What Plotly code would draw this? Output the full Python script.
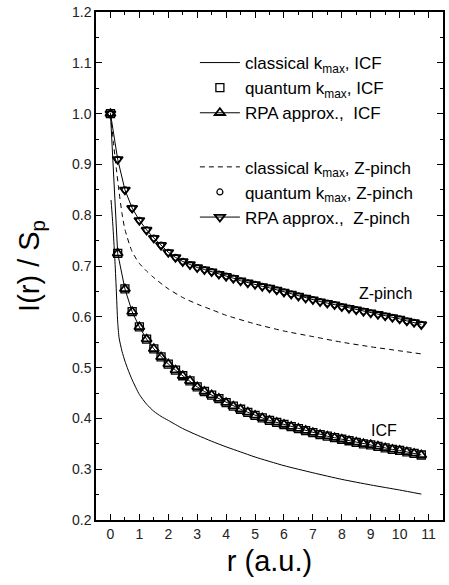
import plotly.graph_objects as go

# ---- data ----
r_pts = [0, 0.25, 0.5, 0.75, 1.0, 1.25, 1.5, 1.75, 2.0, 2.25, 2.5, 2.75, 3.0, 3.25, 3.5, 3.75,
         4.0, 4.25, 4.5, 4.75, 5.0, 5.25, 5.5, 5.75, 6.0, 6.25, 6.5, 6.75, 7.0, 7.25, 7.5, 7.75,
         8.0, 8.25, 8.5, 8.75, 9.0, 9.25, 9.5, 9.75, 10.0, 10.25, 10.5, 10.75]

rpa_icf = [1.000, 0.725, 0.655, 0.610, 0.580, 0.556, 0.537, 0.521, 0.507, 0.495, 0.484, 0.474,
           0.462, 0.453, 0.446, 0.439, 0.431, 0.424, 0.418, 0.412, 0.406, 0.401, 0.396, 0.392,
           0.388, 0.384, 0.380, 0.376, 0.372, 0.368, 0.365, 0.362, 0.359, 0.356, 0.353, 0.350,
           0.348, 0.345, 0.342, 0.339, 0.337, 0.334, 0.331, 0.328]
quantum_icf = [1.000, 0.725, 0.655, 0.610, 0.580, 0.556, 0.537, 0.521, 0.507, 0.495, 0.484, 0.474,
               0.462, 0.453, 0.446, 0.439, 0.431, 0.424, 0.418, 0.412, 0.406, 0.401, 0.396, 0.392,
               0.388, 0.384, 0.380, 0.376, 0.372, 0.368, 0.365, 0.362, 0.359, 0.356, 0.353, 0.350,
               0.348, 0.345, 0.342, 0.339, 0.337, 0.334, 0.331, 0.328]

rpa_z = [1.000, 0.910, 0.850, 0.814, 0.790, 0.771, 0.755, 0.741, 0.727, 0.717, 0.709, 0.703,
         0.697, 0.693, 0.689, 0.684, 0.680, 0.676, 0.671, 0.667, 0.664, 0.660, 0.657, 0.653,
         0.649, 0.645, 0.641, 0.637, 0.634, 0.630, 0.627, 0.624, 0.620, 0.617, 0.614, 0.611,
         0.608, 0.605, 0.602, 0.599, 0.596, 0.592, 0.589, 0.585]
quantum_z = [1.000, 0.910, 0.850, 0.814, 0.790, 0.771, 0.755, 0.741, 0.727, 0.717, 0.709, 0.703,
             0.697, 0.693, 0.689, 0.684, 0.680, 0.676, 0.671, 0.667, 0.664, 0.660, 0.657, 0.653,
             0.649, 0.645, 0.641, 0.637, 0.634, 0.630, 0.627, 0.624, 0.620, 0.617, 0.614, 0.611,
             0.608, 0.605, 0.602, 0.599, 0.596, 0.592, 0.589, 0.585]

r_cl_icf = [0.02, 0.06, 0.1, 0.15, 0.2, 0.25, 0.3, 0.4, 0.5, 0.6, 0.75, 1.0, 1.25, 1.5, 1.75,
            2.0, 2.5, 3.0, 3.5, 4.0, 4.5, 5.0, 6.0, 7.0, 8.0, 9.0, 10.0, 10.75]
cl_icf = [0.830, 0.800, 0.765, 0.715, 0.655, 0.590, 0.558, 0.532, 0.513, 0.497, 0.476, 0.447,
          0.428, 0.414, 0.404, 0.396, 0.380, 0.367, 0.355, 0.344, 0.334, 0.324, 0.307, 0.293,
          0.280, 0.269, 0.259, 0.251]

r_cl_z = [0, 0.1, 0.2, 0.3, 0.4, 0.5, 0.75, 1.0, 1.25, 1.5, 2.0, 2.5, 3.0, 3.5, 4.0, 5.0, 6.0,
          7.0, 8.0, 9.0, 10.0, 10.75]
cl_z = [1.000, 0.945, 0.893, 0.845, 0.803, 0.772, 0.728, 0.705, 0.690, 0.677, 0.655, 0.638,
        0.625, 0.614, 0.603, 0.586, 0.572, 0.561, 0.550, 0.541, 0.533, 0.527]

x_ticks = list(range(0, 12))
y_ticks = [0.2, 0.3, 0.4, 0.5, 0.6, 0.7, 0.8, 0.9, 1.0, 1.1, 1.2]

FONT = "Liberation Sans, Arial, sans-serif"
fig = go.Figure()

fig.add_trace(go.Scatter(x=r_cl_icf, y=cl_icf, mode="lines", name="classical k<sub>max</sub>, ICF",
                         line=dict(color="black", width=1, shape="spline", smoothing=0.6),
                         legendgroup="icf"))
fig.add_trace(go.Scatter(x=r_pts, y=quantum_icf, mode="markers", name="quantum k<sub>max</sub>, ICF",
                         marker=dict(symbol="square-open", size=8, color="black", line=dict(width=1.3)),
                         legendgroup="icf"))
fig.add_trace(go.Scatter(x=r_pts, y=rpa_icf, mode="lines+markers", name="RPA approx.,  ICF",
                         line=dict(color="black", width=1),
                         marker=dict(symbol="triangle-up-open", size=9, color="black", line=dict(width=1.8)),
                         legendgroup="icf"))
fig.add_trace(go.Scatter(x=r_cl_z, y=cl_z, mode="lines", name="classical k<sub>max</sub>, Z-pinch",
                         line=dict(color="black", width=1, dash="5px,4px", shape="spline", smoothing=0.6),
                         legendgroup="z"))
fig.add_trace(go.Scatter(x=r_pts, y=quantum_z, mode="markers", name="quantum k<sub>max</sub>, Z-pinch",
                         marker=dict(symbol="circle-open", size=6, color="black", line=dict(width=1.2)),
                         legendgroup="z"))
fig.add_trace(go.Scatter(x=r_pts, y=rpa_z, mode="lines+markers", name="RPA approx.,  Z-pinch",
                         line=dict(color="black", width=1),
                         marker=dict(symbol="triangle-down-open", size=9, color="black", line=dict(width=1.8)),
                         legendgroup="z"))

fig.add_annotation(x=9.5, y=0.645, text="Z-pinch", showarrow=False,
                   font=dict(family=FONT, size=16, color="black"))
fig.add_annotation(x=9.45, y=0.376, text="ICF", showarrow=False,
                   font=dict(family=FONT, size=16, color="black"))

axis_common = dict(showline=True, linecolor="black", linewidth=1.5, mirror="allticks",
                   ticks="inside", ticklen=6, tickwidth=1.2, tickcolor="black",
                   showgrid=False, zeroline=False,
                   tickfont=dict(family=FONT, size=14, color="#222"))

fig.update_xaxes(range=[-0.5, 11.5], tickvals=x_ticks, ticktext=[str(v) for v in x_ticks],
                 minor=dict(ticks="inside", ticklen=3, tickcolor="black", dtick=0.5, tick0=0.5),
                 title=dict(text="r (a.u.)", font=dict(family=FONT, size=29, color="black"), standoff=10),
                 **axis_common)
fig.update_yaxes(range=[0.2, 1.2], tickvals=y_ticks, ticktext=[f"{v:.1f}" for v in y_ticks],
                 minor=dict(ticks="inside", ticklen=3, tickcolor="black", dtick=0.05, tick0=0.25),
                 title=dict(text="I(r) / S<sub>p</sub>", font=dict(family=FONT, size=29, color="black"), standoff=24),
                 **axis_common)

fig.update_layout(
    width=449, height=585,
    margin=dict(l=96, r=4, t=10, b=65),
    paper_bgcolor="white", plot_bgcolor="white",
    font=dict(family=FONT, color="black"),
    legend=dict(x=0.285, y=0.935, xanchor="left", yanchor="top", bgcolor="rgba(0,0,0,0)",
                font=dict(family=FONT, size=17, color="black"),
                traceorder="grouped", tracegroupgap=29, itemwidth=40),
    showlegend=True,
)

fig.write_html("out.html")
